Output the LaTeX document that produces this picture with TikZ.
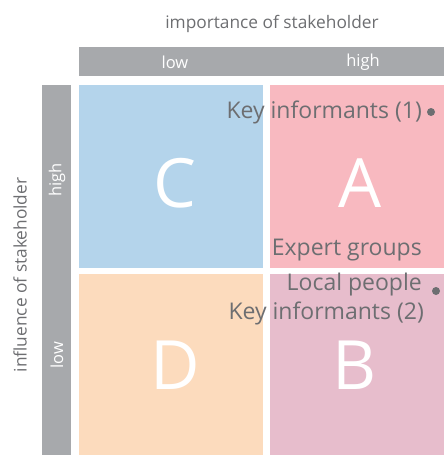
\documentclass[tikz,border=0pt]{standalone}
\usepackage{fontspec}
\setmainfont{Open Sans}
\usetikzlibrary{positioning}
\definecolor{bargray}{HTML}{A7A9AC}
\definecolor{labelgray}{HTML}{6D6E71}
\definecolor{quadC}{HTML}{B4D4EB}
\definecolor{quadA}{HTML}{F8B9C0}
\definecolor{quadD}{HTML}{FCDBBD}
\definecolor{quadB}{HTML}{E7BDCC}

\begin{document}
\begin{tikzpicture}[x=1pt,y=-1pt,
  quad/.style={draw=none,inner sep=0pt,anchor=north west,minimum width=184pt,minimum height=183pt},
  letter/.style={font=\fontsize{68}{68}\selectfont,white,inner sep=0pt},
  axis/.style={font=\fontsize{17.3}{17.3}\selectfont,labelgray,inner sep=0pt},
  barlabel/.style={font=\fontsize{16.5}{16.5}\selectfont,white,inner sep=0pt},
  who/.style={font=\fontsize{23}{23}\selectfont,labelgray,inner sep=0pt},
  dot/.style={circle,fill=labelgray,draw=none,inner sep=0pt,minimum size=8pt}]
  \useasboundingbox (0,0) rectangle (444,455);

  % axes
  \node[axis] (importance) at (272,24) {importance of stakeholder};
  \node[axis,rotate=90] (influence) at (20,275) {influence of stakeholder};
  \fill[bargray] (79,47) rectangle (444,76);
  \fill[bargray] (42,85) rectangle (71,455);
  \node[barlabel] (imp low) at (175,62) {low};
  \node[barlabel] (imp high) at (363,62) {high};
  \node[barlabel,rotate=90] (inf high) at (57,180) {high};
  \node[barlabel,rotate=90] (inf low) at (57,355) {low};

  % quadrants
  \node[quad,fill=quadC] (C) at (79,85) {};
  \node[quad,fill=quadA,minimum width=174pt] (A) at (270,85) {};
  \node[quad,fill=quadD,minimum height=181pt] (D) at (79,274) {};
  \node[quad,fill=quadB,minimum width=174pt,minimum height=181pt] (B) at (270,274) {};
  \node[letter] (C letter) at (175,183) {C};
  \node[letter] (A letter) at (360,183) {A};
  \node[letter] (D letter) at (175,365) {D};
  \node[letter] (B letter) at (355,365) {B};

  % stakeholders
  \node[who,anchor=east] (key one) at (422,112) {Key informants (1)};
  \node[dot] (key one dot) at (431,112) {};
  \node[who,anchor=east] (expert) at (422,250) {Expert groups};
  \node[who,anchor=east] (local) at (422,285) {Local people};
  \node[dot] (local dot) at (436,291) {};
  \node[who,anchor=east] (key two) at (424,313) {Key informants (2)};
\end{tikzpicture}
\end{document}
